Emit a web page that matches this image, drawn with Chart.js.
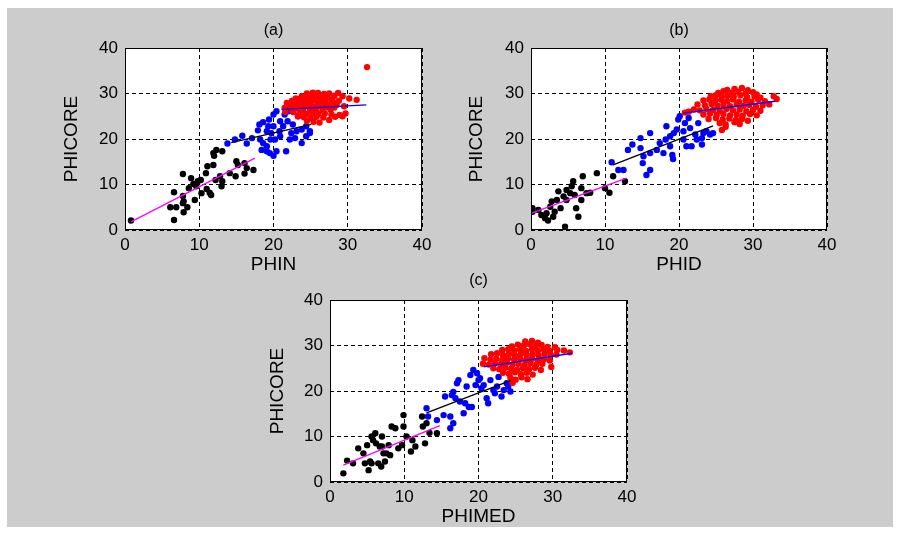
<!DOCTYPE html>
<html>
<head>
<meta charset="utf-8">
<script src="https://cdn.jsdelivr.net/npm/chart.js@4.4.1/dist/chart.umd.min.js"></script>
<style>
  html, body { margin: 0; padding: 0; background: #ffffff; }
  body { width: 901px; height: 533px; position: relative; overflow: hidden; }
  #figure { position: absolute; left: 7px; top: 8px; width: 886px; height: 519px; background: #cccccc; }
  .panel { position: absolute; }
</style>
</head>
<body>
<div id="figure"></div>
<div class="panel" style="left:0px;top:0px;width:450px;height:280px;"><canvas id="chartA"></canvas></div>
<div class="panel" style="left:450px;top:0px;width:451px;height:280px;"><canvas id="chartB"></canvas></div>
<div class="panel" style="left:250px;top:270px;width:400px;height:263px;"><canvas id="chartC"></canvas></div>
<script>
// axis ticks, shared by all three panels
const tickValues = [0, 10, 20, 30, 40];

// ---- panel (a): PHIN vs PHICORE ----
const aBlack = [
  [0.8,2.1],[6.6,8.3],[7.8,12.3],[6.1,5.0],[6.9,5.0],[6.6,2.2],[7.9,3.9],[8.4,5.0],[7.9,6.3],[7.8,7.5],
  [8.9,11.4],[9.4,6.6],[8.6,9.2],[9.2,10.1],[9.8,10.7],[10.2,11.0],[9.6,9.6],[11.0,9.0],[11.4,8.2],[11.6,7.7],
  [10.9,12.5],[11.1,14.0],[12.0,16.3],[11.9,14.3],[12.3,17.6],[13.1,17.3],[12.2,11.0],[12.8,11.8],[13.0,9.6],[13.1,10.7],
  [14.1,12.5],[15.0,15.1],[14.9,11.8],[15.2,14.3],[16.1,14.7],[16.1,12.4],[16.4,13.6],[17.3,13.2],[11.9,16.9],[10.3,8.1],
  [7.8,5.9]
];
const aBlue = [
  [13.8,19.0],[14.8,19.9],[15.8,20.7],[16.4,19.0],[17.1,20.2],[17.9,21.9],[18.1,23.2],[18.6,23.7],[19.1,21.7],[19.3,22.8],
  [19.4,24.3],[20.0,25.4],[20.4,26.1],[19.7,21.3],[18.6,19.1],[19.1,18.4],[18.4,17.6],[19.5,16.9],[20.0,16.3],[20.4,17.3],
  [19.1,17.3],[21.7,17.3],[20.2,19.9],[20.8,21.7],[21.3,22.8],[21.9,23.9],[21.5,25.4],[20.9,23.9],[22.4,21.3],[23.1,21.7],
  [22.2,19.9],[22.9,20.2],[23.8,19.1],[24.4,20.6],[24.9,21.3],[23.8,22.1],[24.4,22.8],[24.9,21.7],[22.6,23.2],[20.0,22.8],
  [20.9,20.6],[22.0,26.1],[23.3,25.0],[19.6,19.9],[18.2,19.9]
];
const aRed = [
  [24.5,30.0],[25.3,30.2],[26.0,30.1],[26.8,29.9],[27.5,30.0],[28.7,30.1],
  [23.8,29.4],[24.8,29.6],[25.6,29.5],[26.4,29.4],[27.2,29.3],[28.2,29.5],[29.3,29.4],
  [23.0,28.9],[23.6,28.8],[24.3,29.0],[25.0,28.9],[25.8,28.8],[26.5,29.0],[27.8,28.7],[30.2,28.9],
  [22.5,28.4],[23.3,28.5],[24.0,28.3],[24.7,28.4],[25.4,28.5],[26.2,28.3],[27.0,28.4],[28.0,28.2],[28.8,28.4],[31.2,28.6],
  [21.8,27.9],[22.6,27.8],[23.5,28.0],[24.2,27.7],[25.0,27.9],[25.9,27.6],[26.7,27.8],[27.5,27.6],[28.5,27.5],
  [22.1,27.3],[23.0,27.4],[23.8,27.2],[24.6,27.3],[25.3,27.1],[26.3,27.2],[27.2,27.0],[28.2,26.9],[29.5,27.2],
  [21.5,26.8],[22.4,26.6],[23.3,26.7],[24.0,26.5],[24.9,26.6],[25.7,26.4],[26.6,26.3],[27.7,26.5],
  [21.6,26.0],[22.7,25.9],[23.6,25.8],[24.4,25.5],[25.2,25.7],[26.0,25.5],[26.9,25.6],[27.8,25.4],[28.9,25.3],[29.7,25.6],
  [23.3,25.0],[24.1,24.8],[25.0,24.6],[25.8,24.9],[26.7,24.7],[28.3,24.9],[29.3,25.0],
  [24.5,24.0],[25.4,23.8],[26.2,23.6],[27.5,24.2],
  [32.6,35.8]
];
const aFitLow = [[0.8,1.8],[17.5,15.8]];
const aFitMid = [[14.3,19.2],[25.1,23.2]];
const aFitHigh = [[21.1,26.5],[32.5,27.5]];

// ---- panel (b): PHID vs PHICORE ----
const bBlack = [
  [0.2,4.8],[0.2,4.0],[1.0,4.4],[1.4,3.3],[1.9,2.6],[2.3,2.1],[2.1,3.7],[2.6,5.1],[2.8,6.3],[3.2,4.0],
  [3.5,6.6],[3.7,8.5],[4.0,4.8],[4.4,7.4],[4.6,0.7],[4.8,8.8],[5.3,8.1],[5.5,9.6],[5.7,10.7],[5.9,7.7],
  [6.1,4.8],[6.4,2.9],[6.8,6.6],[6.8,9.2],[7.0,11.8],[7.5,8.1],[8.0,8.2],[8.9,12.5],[10.0,9.2],[10.6,8.2],
  [11.1,11.8],[12.7,10.7],[4.8,6.6],[3.0,2.9]
];
const bBlue = [
  [10.9,14.9],[11.8,13.2],[12.5,13.2],[13.1,17.6],[13.7,18.8],[15.1,14.7],[14.8,20.2],[14.8,18.0],[15.2,16.2],[15.6,12.1],
  [16.1,13.2],[16.1,16.9],[16.1,21.3],[17.0,17.6],[17.4,19.1],[17.9,16.9],[18.2,19.9],[18.3,22.8],[18.8,18.4],[19.1,16.5],
  [19.2,15.6],[19.3,21.3],[19.7,22.1],[19.9,24.3],[20.1,25.0],[20.6,21.7],[20.8,23.5],[21.0,18.4],[21.3,24.6],[21.5,22.4],
  [21.7,18.4],[22.2,21.0],[22.4,19.9],[22.6,23.5],[23.1,20.2],[23.3,21.3],[23.7,21.7],[23.1,18.8],[24.2,21.0],[24.6,21.3],
  [20.6,19.9],[18.8,20.6]
];
const bRed = [
  [26.5,30.8],[27.5,31.0],[28.5,31.2],[29.3,30.7],
  [25.3,30.1],[26.0,30.5],[27.1,30.2],[28.0,30.4],[29.0,30.0],[30.0,30.3],[30.5,29.8],
  [24.3,29.4],[25.0,29.6],[25.8,29.3],[26.6,29.5],[27.4,29.3],[28.3,29.6],[29.2,29.2],[30.2,29.4],[31.0,29.1],[32.8,29.4],
  [23.3,28.5],[24.1,28.7],[24.9,28.4],[25.7,28.6],[26.5,28.3],[27.3,28.7],[28.1,28.2],[29.0,28.5],[29.8,28.2],[30.7,28.6],[31.6,28.3],[33.2,28.8],
  [22.5,27.6],[23.5,27.4],[24.4,27.7],[25.2,27.3],[26.0,27.5],[26.9,27.2],[27.8,27.6],[28.7,27.3],[29.5,27.5],[30.4,27.1],[31.3,27.4],[32.2,27.6],
  [21.3,26.0],[22.0,26.5],[22.8,26.3],[23.7,26.6],[24.6,26.4],[25.5,26.2],[26.4,26.6],[27.3,26.3],[28.2,26.5],[29.1,26.1],[30.0,26.4],[31.0,26.2],
  [20.8,25.8],[23.3,25.4],[24.2,25.6],[25.1,25.3],[26.0,25.5],[26.9,25.2],[27.8,25.4],[28.6,25.1],[29.6,25.5],[30.5,25.2],
  [24.0,24.4],[25.0,24.6],[25.9,24.3],[26.8,24.5],[27.7,24.2],[28.5,24.4],[29.3,24.0],
  [25.5,23.5],[26.3,23.2],[27.5,23.7],[28.2,23.3],
  [25.8,22.0],[26.3,22.7]
];
const bFitLow = [[0.1,3.7],[12.9,11.4]];
const bFitMid = [[11.1,14.3],[24.6,22.9]];
const bFitHigh = [[20.6,25.7],[33.0,28.3]];

// ---- panel (c): PHIMED vs PHICORE ----
const cBlack = [
  [1.8,1.9],[2.3,4.7],[3.1,4.1],[3.8,7.4],[4.5,6.3],[4.7,4.1],[5.0,8.1],[5.2,2.6],[5.4,4.5],[5.6,10.0],
  [5.8,9.2],[6.1,10.7],[6.2,8.5],[6.5,4.1],[6.7,7.8],[6.9,3.4],[7.0,10.0],[7.2,6.3],[7.4,4.5],[7.6,6.3],
  [7.9,8.1],[8.3,12.2],[8.8,11.8],[9.2,7.4],[9.7,8.1],[9.9,14.7],[9.9,12.2],[10.3,10.0],[10.9,6.7],[11.1,9.2],
  [11.5,7.8],[12.4,14.4],[12.5,12.2],[12.8,8.5],[13.0,12.9],[13.4,10.8],[14.4,10.7],[8.1,5.9],[5.6,4.1],[7.0,7.8]
];
const cBlue = [
  [13.0,16.2],[13.2,14.4],[14.4,13.6],[15.3,14.7],[15.5,18.8],[16.2,14.4],[16.2,11.8],[16.4,19.1],[16.6,12.9],[16.9,18.4],
  [17.1,21.7],[17.3,22.4],[17.5,17.7],[18.0,15.1],[18.2,17.3],[18.4,21.0],[18.7,16.5],[18.9,23.5],[19.1,16.5],[19.3,24.6],
  [19.6,21.3],[19.8,23.9],[20.0,22.4],[20.2,22.8],[21.1,18.4],[21.3,17.3],[21.6,22.4],[22.0,20.2],[22.2,19.5],[22.5,21.0],
  [22.7,23.1],[23.1,18.8],[23.4,20.2],[23.8,21.7],[24.3,19.9],[24.0,21.0],[20.7,21.3],[20.4,20.6],[16.6,19.8]
];
const cRed = [
  [26.3,30.9],[27.2,31.0],[28.0,30.6],
  [24.5,29.8],[25.3,30.2],[26.1,30.0],[26.9,30.3],[27.7,29.9],[28.5,30.1],[29.3,29.7],[30.3,29.6],
  [23.2,29.0],[24.0,29.2],[24.8,28.9],[25.6,29.1],[26.4,28.8],[27.2,29.2],[28.0,28.9],[28.8,29.1],[29.6,28.8],[30.6,29.0],[31.5,28.9],[32.3,28.5],
  [21.7,28.1],[22.5,28.3],[23.3,27.9],[24.1,28.1],[24.9,27.8],[25.7,28.2],[26.5,27.9],[27.3,28.1],[28.1,27.8],[28.9,28.2],[29.7,27.9],[30.5,28.0],
  [20.8,27.2],[21.6,26.9],[22.4,27.1],[23.2,26.8],[24.0,27.2],[24.8,26.9],[25.6,27.1],[26.4,26.8],[27.2,27.1],[28.0,26.7],[28.8,27.0],[29.6,26.7],
  [20.6,26.0],[21.4,25.8],[22.2,26.1],[23.0,25.9],[23.8,26.2],[24.6,25.8],[25.4,26.0],[26.2,25.7],[27.0,26.1],[27.8,25.8],[28.6,26.0],[29.8,25.3],
  [22.0,25.0],[22.8,24.8],[23.6,25.1],[24.4,24.9],[25.2,24.7],[26.0,25.0],[26.8,24.8],[27.6,25.1],[28.4,24.6],
  [23.3,24.0],[24.1,23.8],[24.9,24.1],[25.7,23.7],[26.5,24.0],[27.3,23.6],
  [24.3,22.9],[25.0,22.5],[25.8,23.0],[26.6,22.6],
  [24.6,21.8]
];
const cFitLow = [[1.8,3.7],[14.8,12.4]];
const cFitMid = [[13.0,15.2],[24.3,22.3]];
const cFitHigh = [[20.7,25.3],[32.6,28.3]];

const FONT = "'Liberation Sans', Arial, sans-serif";

function toXY(pairs) {
    return pairs.map(p => ({ x: p[0], y: p[1] }));
}

// white axes box with a solid frame, plus the panel title
const framePlugin = {
    id: 'frame',
    beforeDraw(chart) {
        const a = chart.chartArea;
        chart.ctx.save();
        chart.ctx.fillStyle = '#ffffff';
        chart.ctx.fillRect(a.left, a.top, a.right - a.left, a.bottom - a.top);
        chart.ctx.restore();
    },
    afterDraw(chart, args, opts) {
        const a = chart.chartArea;
        const ctx = chart.ctx;
        ctx.save();
        ctx.strokeStyle = '#000000';
        ctx.lineWidth = 1;
        ctx.setLineDash([]);
        ctx.strokeRect(a.left + 0.5, a.top + 0.5, a.right - a.left - 1, a.bottom - a.top - 1);
        ctx.fillStyle = '#000000';
        ctx.font = '16px ' + FONT;
        ctx.textAlign = 'center';
        ctx.textBaseline = 'middle';
        ctx.fillText(opts.text, (a.left + a.right) / 2, opts.y);
        ctx.restore();
    }
};

function makePanel(id, cfg) {
    const dot = (data, color) => ({
        type: 'scatter', data: toXY(data), backgroundColor: color, borderColor: color,
        pointRadius: 3.2, pointHoverRadius: 3.2, borderWidth: 0
    });
    const fit = (data, color) => ({
        type: 'line', data: toXY(data), borderColor: color, borderWidth: 1.3,
        pointRadius: 0, fill: false, showLine: true
    });
    const axis = (size, title, pad) => ({
        type: 'linear', min: 0, max: 40,
        afterBuildTicks: s => { s.ticks = tickValues.map(v => ({ value: v })); },
        grid: { color: '#000000', drawTicks: false, lineWidth: 1 },
        border: { display: false, dash: [4, 3] },
        ticks: { color: '#000000', font: { family: FONT, size: 17 }, padding: size, maxRotation: 0 },
        title: { display: true, text: title, color: '#000000',
                 font: { family: FONT, size: 19 }, padding: pad }
    });
    const x = axis(5, cfg.xLabel, { top: 0, bottom: cfg.xPad });
    x.afterFit = s => { s.height = cfg.xh; };
    const y = axis(7, 'PHICORE', { top: cfg.yPad, bottom: 0 });
    y.afterFit = s => { s.width = cfg.yw; };

    return new Chart(document.getElementById(id), {
        type: 'scatter',
        data: {
            datasets: [
                fit(cfg.fitLow, '#ff00ff'),
                fit(cfg.fitMid, '#000000'),
                fit(cfg.fitHigh, '#0000ff'),
                dot(cfg.red, '#ff0000'),
                dot(cfg.blue, '#0000ff'),
                dot(cfg.black, '#000000')
            ]
        },
        options: {
            responsive: true,
            maintainAspectRatio: false,
            animation: false,
            layout: { padding: { left: 0, top: cfg.top, right: cfg.right, bottom: 0 } },
            plugins: {
                legend: { display: false },
                tooltip: { enabled: false },
                frame: { text: cfg.title, y: cfg.titleY }
            },
            scales: { x: x, y: y }
        },
        plugins: [framePlugin]
    });
}

makePanel('chartA', {
    black: aBlack, blue: aBlue, red: aRed, fitLow: aFitLow, fitMid: aFitMid, fitHigh: aFitHigh,
    title: '(a)', titleY: 31, xLabel: 'PHIN',
    top: 48, right: 28, xh: 50, yw: 125, xPad: 4, yPad: 60
});
makePanel('chartB', {
    black: bBlack, blue: bBlue, red: bRed, fitLow: bFitLow, fitMid: bFitMid, fitHigh: bFitHigh,
    title: '(b)', titleY: 31, xLabel: 'PHID',
    top: 48, right: 74, xh: 50, yw: 81, xPad: 4, yPad: 15
});
makePanel('chartC', {
    black: cBlack, blue: cBlue, red: cRed, fitLow: cFitLow, fitMid: cFitMid, fitHigh: cFitHigh,
    title: '(c)', titleY: 11, xLabel: 'PHIMED',
    top: 30, right: 23, xh: 51, yw: 80, xPad: 5, yPad: 16
});
</script>
</body>
</html>
